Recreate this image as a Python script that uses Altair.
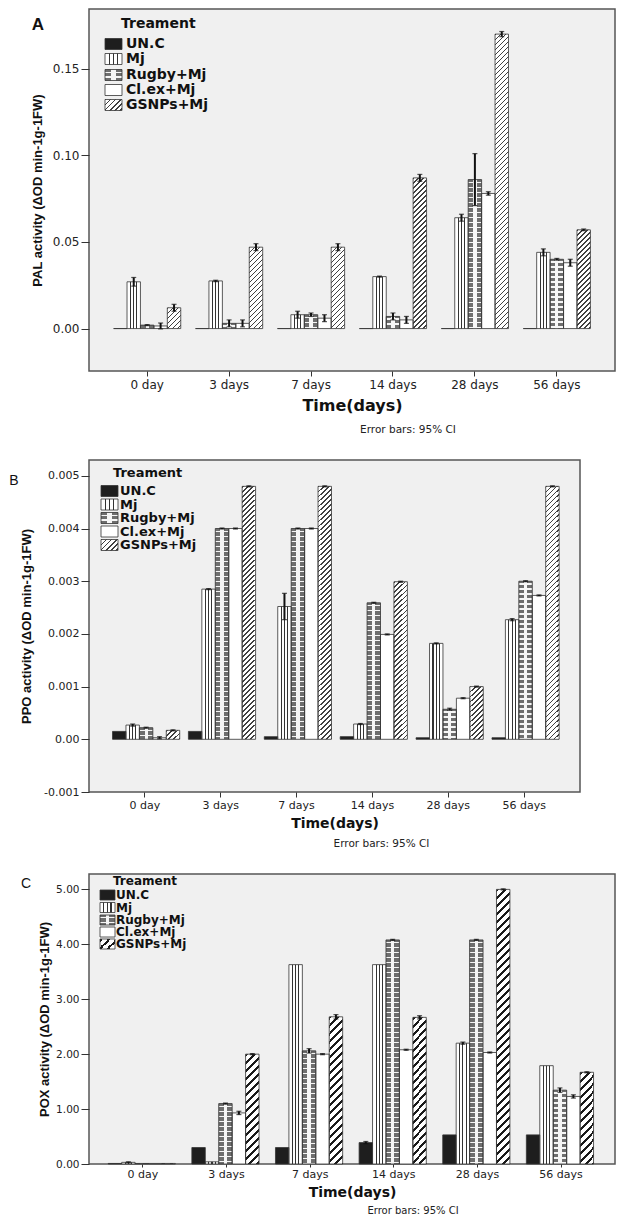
import altair as alt
import pandas as pd

days = ["0 day", "3 days", "7 days", "14 days", "28 days", "56 days"]
treatments = ["UN.C", "Mj", "Rugby+Mj", "Cl.ex+Mj", "GSNPs+Mj"]

# ---- Panel A: PAL activity ----
pal_unc = [0.0, 0.0, 0.0, 0.0, 0.0, 0.0]
pal_mj = [0.027, 0.0275, 0.008, 0.030, 0.064, 0.044]
pal_rugby = [0.002, 0.003, 0.008, 0.007, 0.086, 0.040]
pal_clex = [0.0015, 0.003, 0.006, 0.005, 0.078, 0.038]
pal_gsnps = [0.012, 0.047, 0.047, 0.087, 0.170, 0.057]
pal_unc_ci = [0, 0, 0, 0, 0, 0]
pal_mj_ci = [0.0025, 0.0004, 0.002, 0.0003, 0.002, 0.002]
pal_rugby_ci = [0.0003, 0.002, 0.001, 0.002, 0.015, 0.0005]
pal_clex_ci = [0.0017, 0.002, 0.002, 0.002, 0.001, 0.002]
pal_gsnps_ci = [0.002, 0.002, 0.002, 0.002, 0.0015, 0.0005]

# ---- Panel B: PPO activity ----
ppo_unc = [0.00015, 0.00015, 0.00005, 0.00005, 0.00003, 0.00003]
ppo_mj = [0.00027, 0.00285, 0.00252, 0.00029, 0.00182, 0.00227]
ppo_rugby = [0.00022, 0.0040, 0.0040, 0.00259, 0.00057, 0.0030]
ppo_clex = [0.00003, 0.0040, 0.0040, 0.00199, 0.00078, 0.00273]
ppo_gsnps = [0.00017, 0.0048, 0.0048, 0.00299, 0.0010, 0.0048]
ppo_unc_ci = [0, 0, 0, 0, 0, 0]
ppo_mj_ci = [0.00002, 0.00001, 0.00025, 0.00001, 0.00001, 0.00002]
ppo_rugby_ci = [0.00001, 0.00001, 0.00001, 0.00001, 0.00002, 0.00001]
ppo_clex_ci = [0.00002, 0.00001, 0.00001, 0.00001, 0.00001, 0.00001]
ppo_gsnps_ci = [0.00001, 0.00001, 0.00001, 0.00001, 0.00001, 0.00001]

# ---- Panel C: POX activity ----
pox_unc = [0.01, 0.30, 0.30, 0.39, 0.53, 0.53]
pox_mj = [0.03, 0.04, 3.63, 3.63, 2.20, 1.79]
pox_rugby = [0.01, 1.10, 2.06, 4.08, 4.08, 1.345]
pox_clex = [0.01, 0.93, 2.00, 2.08, 2.03, 1.23]
pox_gsnps = [0.01, 2.00, 2.68, 2.67, 5.00, 1.67]
pox_unc_ci = [0, 0, 0, 0.02, 0, 0]
pox_mj_ci = [0.01, 0, 0, 0, 0.02, 0]
pox_rugby_ci = [0, 0.01, 0.04, 0.01, 0.01, 0.04]
pox_clex_ci = [0, 0.03, 0.01, 0.01, 0.01, 0.03]
pox_gsnps_ci = [0, 0.01, 0.04, 0.03, 0.01, 0.01]


def build_df(vals, cis):
    rows = []
    for t, vl, cl in zip(treatments, vals, cis):
        for d, v, c in zip(days, vl, cl):
            rows.append(dict(day=d, treatment=t, value=v, lo=v - c, hi=v + c, ci=c))
    return pd.DataFrame(rows)


def stops_from(intervals, bg, fg):
    out = [alt.GradientStop(offset=0, color=bg)]
    for a, b in intervals:
        a = round(max(0.0, min(1.0, a)), 5)
        b = round(max(0.0, min(1.0, b)), 5)
        if b <= a:
            continue
        out += [alt.GradientStop(offset=a, color=bg), alt.GradientStop(offset=a, color=fg),
                alt.GradientStop(offset=b, color=fg), alt.GradientStop(offset=b, color=bg)]
    out.append(alt.GradientStop(offset=1, color=bg))
    return out


def vstripes():
    return alt.LinearGradient(gradient="linear", x1=0, y1=0, x2=1, y2=0,
                              stops=stops_from([(0.22, 0.30), (0.46, 0.54), (0.70, 0.78)], "#ffffff", "#333333"))


def rugby_base():
    return alt.LinearGradient(gradient="linear", x1=0, y1=0, x2=1, y2=0,
                              stops=stops_from([(0.38, 0.62)], "#6e6e6e", "#f6f6f6"))


def rugby_rows(h, period=5.0, thick=1.4):
    ivs = []
    s = 2.0
    while s < h:
        ivs.append((s / h, (s + thick) / h))
        s += period
    return alt.LinearGradient(gradient="linear", x1=0, y1=0, x2=0, y2=1,
                              stops=stops_from(ivs, "rgba(255,255,255,0)", "#f6f6f6"))


def hatch(w, h, period, thick, fg):
    r = h / w
    k = (1 + r) / (1 + r * r)
    tot = w + h
    ivs = []
    s = 0.0
    while s < tot:
        ivs.append((s / tot, (s + thick) / tot))
        s += period
    return alt.LinearGradient(gradient="linear", x1=0, y1=0, x2=k, y2=k * r,
                              stops=stops_from(ivs, "#ffffff", fg))


panels = [
    dict(letter="A", letter_weight="bold", letter_size=17, letter_dx=-51, letter_dy=16,
         df=build_df([pal_unc, pal_mj, pal_rugby, pal_clex, pal_gsnps],
                     [pal_unc_ci, pal_mj_ci, pal_rugby_ci, pal_clex_ci, pal_gsnps_ci]),
         width=526, height=362, domain=[-0.0245, 0.1845], ticks=[0.0, 0.05, 0.10, 0.15],
         label_expr="format(datum.value, '.2f')",
         ytitle="PAL activity (ΔOD min-1g-1FW)", ytitle_x=-52, ylabel_size=12,
         pi=0.18, po=0.30, xlabel_size=12, xtick=5, xlabel_pad=3, xtitle_size=16, xtitle_y=34,
         err_dx=56, err_dy=59, err_size=10.5,
         leg_title_x=32, leg_title_y=15, leg_title_size=14, leg_sym_x=16, leg_sym_w=17, leg_sym_h=11,
         leg_rows=[35, 50, 66, 81, 96], leg_lab_x=37, leg_size=14,
         hatch_period=5.0, hatch_thick=1.5, hatch_color="#404040", rule_w=2),
    dict(letter="B", letter_weight="normal", letter_size=14, letter_dx=-75, letter_dy=21,
         df=build_df([ppo_unc, ppo_mj, ppo_rugby, ppo_clex, ppo_gsnps],
                     [ppo_unc_ci, ppo_mj_ci, ppo_rugby_ci, ppo_clex_ci, ppo_gsnps_ci]),
         width=491, height=332, domain=[-0.001, 0.0053],
         ticks=[-0.001, 0.0, 0.001, 0.002, 0.003, 0.004, 0.005],
         label_expr="datum.value == 0 ? '0.00' : (datum.value < 0 ? '-' + format(-datum.value, '.3f') : format(datum.value, '.3f'))",
         ytitle="PPO activity (ΔOD min-1g-1FW)", ytitle_x=-63, ylabel_size=11,
         pi=0.15, po=0.31, xlabel_size=11, xtick=5, xlabel_pad=2, xtitle_size=14, xtitle_y=31,
         err_dx=47, err_dy=52, err_size=10.5,
         leg_title_x=24, leg_title_y=13, leg_title_size=13, leg_sym_x=12, leg_sym_w=17, leg_sym_h=11,
         leg_rows=[31, 44.5, 58, 71.5, 85], leg_lab_x=31, leg_size=13,
         hatch_period=5.0, hatch_thick=1.5, hatch_color="#404040", rule_w=2),
    dict(letter="C", letter_weight="normal", letter_size=14, letter_dx=-63, letter_dy=10,
         df=build_df([pox_unc, pox_mj, pox_rugby, pox_clex, pox_gsnps],
                     [pox_unc_ci, pox_mj_ci, pox_rugby_ci, pox_clex_ci, pox_gsnps_ci]),
         width=526, height=290, domain=[0.0, 5.28], ticks=[0, 1, 2, 3, 4, 5],
         label_expr="format(datum.value, '.2f')",
         ytitle="POX activity (ΔOD min-1g-1FW)", ytitle_x=-45, ylabel_size=10.5,
         pi=0.17, po=0.23, xlabel_size=11, xtick=3, xlabel_pad=1, xtitle_size=14, xtitle_y=28,
         err_dx=61, err_dy=47, err_size=10,
         leg_title_x=24, leg_title_y=7, leg_title_size=12, leg_sym_x=11, leg_sym_w=15, leg_sym_h=10,
         leg_rows=[21, 33.5, 46, 58, 70], leg_lab_x=27, leg_size=12,
         hatch_period=8.0, hatch_thick=3.0, hatch_color="#1a1a1a", rule_w=2),
]


def make_panel(p):
    df = p["df"]
    W, H = p["width"], p["height"]
    dmin, dmax = p["domain"]
    ppu = H / (dmax - dmin)
    step = W / (6 - p["pi"] + 2 * p["po"])
    bar_w = step * (1 - p["pi"]) / 5

    x_axis = alt.Axis(title="Time(days)", labelAngle=0, domain=False, grid=False,
                      tickSize=p["xtick"], tickColor="#333", labelPadding=p["xlabel_pad"],
                      labelFont="DejaVu Sans", labelFontSize=p["xlabel_size"], labelColor="#222",
                      titleFont="DejaVu Sans", titleFontWeight="bold", titleFontSize=p["xtitle_size"],
                      titleColor="#111", titleY=p["xtitle_y"], titleBaseline="middle")
    y_axis = alt.Axis(title=p["ytitle"], values=p["ticks"], labelExpr=p["label_expr"],
                      domain=False, grid=False, tickSize=8, tickColor="#333", labelPadding=2,
                      labelFont="DejaVu Sans", labelFontSize=p["ylabel_size"], labelColor="#222",
                      titleFont="Liberation Sans", titleFontWeight="bold", titleFontSize=13,
                      titleColor="#111", titleX=p["ytitle_x"], titleY=H / 2,
                      titleBaseline="middle", titleAngle=270)
    x_enc = alt.X("day:N", sort=days,
                  scale=alt.Scale(domain=days, paddingInner=p["pi"], paddingOuter=p["po"]),
                  axis=x_axis)
    xo_enc = alt.XOffset("treatment:N", sort=treatments,
                         scale=alt.Scale(domain=treatments, paddingInner=0, paddingOuter=0))
    y_scale = alt.Scale(domain=[dmin, dmax], nice=False, zero=False)

    def yv(field):
        return alt.Y(field, scale=y_scale, axis=y_axis, title=p["ytitle"])

    def bars(data, fill, **kw):
        return alt.Chart(data).mark_bar(fill=fill, strokeWidth=0, **kw).encode(
            x=x_enc, xOffset=xo_enc, y=yv("value:Q"), y2=alt.datum(0))

    layers = []
    layers.append(bars(df[df.treatment == "UN.C"], "#1e1e1e"))
    layers.append(bars(df[df.treatment == "Mj"], vstripes()))
    layers.append(bars(df[df.treatment == "Rugby+Mj"], rugby_base()))
    for _, row in df[df.treatment == "Rugby+Mj"].iterrows():
        h = row.value * ppu
        if h > 4:
            layers.append(bars(pd.DataFrame([row]), rugby_rows(h)))
    layers.append(bars(df[df.treatment == "Cl.ex+Mj"], "#ffffff"))
    for _, row in df[df.treatment == "GSNPs+Mj"].iterrows():
        h = max(row.value * ppu, 0.5)
        layers.append(bars(pd.DataFrame([row]),
                           hatch(bar_w, h, p["hatch_period"], p["hatch_thick"], p["hatch_color"])))
    # outlines
    layers.append(alt.Chart(df).mark_bar(fillOpacity=0, stroke="#333", strokeWidth=0.8).encode(
        x=x_enc, xOffset=xo_enc, y=yv("value:Q"), y2=alt.datum(0)))

    # error bars (95% CI)
    err = df[df.ci > 0]
    layers.append(alt.Chart(err).mark_rule(color="#111", strokeWidth=p["rule_w"]).encode(
        x=x_enc, xOffset=xo_enc, y=yv("lo:Q"), y2="hi:Q"))
    layers.append(alt.Chart(err).mark_tick(color="#111", size=5, thickness=1.2).encode(
        x=x_enc, xOffset=xo_enc, y=yv("lo:Q")))
    layers.append(alt.Chart(err).mark_tick(color="#111", size=5, thickness=1.2).encode(
        x=x_enc, xOffset=xo_enc, y=yv("hi:Q")))

    # legend
    one = pd.DataFrame({"txt": ["Treament"]})
    layers.append(alt.Chart(one).mark_text(
        align="left", baseline="middle", font="DejaVu Sans", fontWeight="bold",
        fontSize=p["leg_title_size"], color="#111").encode(
        x=alt.value(p["leg_title_x"]), y=alt.value(p["leg_title_y"]), text="txt:N"))
    sw, sh = p["leg_sym_w"], p["leg_sym_h"]
    sym_fills = {
        "UN.C": ["#1e1e1e"],
        "Mj": [vstripes()],
        "Rugby+Mj": [rugby_base(), rugby_rows(sh, period=5.0, thick=1.4)],
        "Cl.ex+Mj": ["#ffffff"],
        "GSNPs+Mj": [hatch(sw, sh, p["hatch_period"], p["hatch_thick"], p["hatch_color"])],
    }
    for t, yc in zip(treatments, p["leg_rows"]):
        d1 = pd.DataFrame({"label": [t]})
        pos = dict(x=alt.value(p["leg_sym_x"]), x2=alt.value(p["leg_sym_x"] + sw),
                   y=alt.value(yc - sh / 2), y2=alt.value(yc + sh / 2))
        for f in sym_fills[t]:
            layers.append(alt.Chart(d1).mark_rect(fill=f, strokeWidth=0).encode(**pos))
        layers.append(alt.Chart(d1).mark_rect(fillOpacity=0, stroke="#333", strokeWidth=0.8).encode(**pos))
        layers.append(alt.Chart(d1).mark_text(
            align="left", baseline="middle", font="DejaVu Sans", fontWeight="bold",
            fontSize=p["leg_size"], color="#111").encode(
            x=alt.value(p["leg_lab_x"]), y=alt.value(yc), text="label:N"))

    # panel letter
    layers.append(alt.Chart(pd.DataFrame({"txt": [p["letter"]]})).mark_text(
        align="center", baseline="middle", font="Liberation Sans", fontWeight=p["letter_weight"],
        fontSize=p["letter_size"], color="#111").encode(
        x=alt.value(p["letter_dx"]), y=alt.value(p["letter_dy"]), text="txt:N"))
    # error bar note
    layers.append(alt.Chart(pd.DataFrame({"txt": ["Error bars: 95% CI"]})).mark_text(
        align="center", baseline="middle", font="DejaVu Sans",
        fontSize=p["err_size"], color="#222").encode(
        x=alt.value(W / 2 + p["err_dx"]), y=alt.value(H + p["err_dy"]), text="txt:N"))

    return alt.layer(*layers).properties(width=W, height=H)


chart = alt.vconcat(*[make_panel(p) for p in panels], spacing=22).properties(
    padding=0).configure_view(fill="#f0f0f0", stroke="#555555", strokeWidth=1.5)

chart.save("out.html", embed_options={"renderer": "svg", "actions": False})
